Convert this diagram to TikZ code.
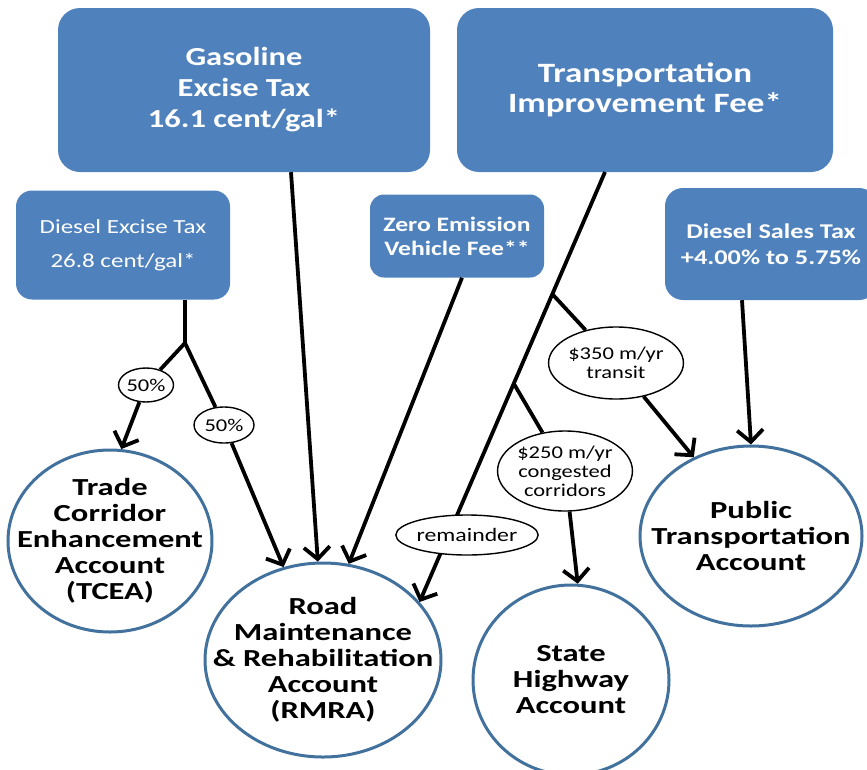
\documentclass[tikz,border=0pt]{standalone}
\usepackage{fontspec}
\setmainfont{Carlito}[FakeStretch=1.25]
\newfontfamily\accfont{Carlito}[FakeStretch=1.33]
\usetikzlibrary{shapes.geometric,arrows.meta,calc}
\definecolor{boxblue}{HTML}{4F81BD}
\definecolor{ringblue}{HTML}{41719C}
\begin{document}
\begin{tikzpicture}[x=1pt,y=-1pt,
  srcbox/.style={fill=boxblue, rounded corners=22pt, text=white, align=center, inner sep=0pt},
  acct/.style={ellipse, draw=ringblue, line width=3pt, fill=white, inner sep=0pt},
  accttext/.style={align=center, inner sep=0pt, font=\accfont\bfseries\fontsize{24.5}{26}\selectfont},
  tag/.style={ellipse, draw=black, line width=1.4pt, fill=white, align=center, inner sep=0pt, font=\fontsize{18}{20}\selectfont},
  conn/.style={line width=3.8pt},
  arr/.style={conn, -{Straight Barb[length=12pt,width=26pt,line width=3.8pt]}}
]
\useasboundingbox (0,0) rectangle (867,769);
% source boxes
\node[srcbox, minimum width=372pt, minimum height=164pt, font=\bfseries\fontsize{26}{31}\selectfont] (gas) at (244,90) {Gasoline\\Excise Tax\\16.1 cent/gal*};
\node[srcbox, minimum width=376pt, minimum height=164pt, font=\bfseries\fontsize{28}{30}\selectfont] (tif) at (645,90) {Transportation\\Improvement Fee*};
\node[srcbox, rounded corners=16pt, minimum width=214pt, minimum height=109pt, font=\fontsize{20}{34}\selectfont] (dex) at (123,245) {Diesel Excise Tax\\26.8 cent/gal*};
\node[srcbox, rounded corners=14pt, minimum width=174pt, minimum height=83pt, font=\bfseries\fontsize{20.5}{24}\selectfont] (zev) at (457,236) {Zero Emission\\Vehicle Fee**};
\node[srcbox, rounded corners=18pt, minimum width=212pt, minimum height=112pt, font=\bfseries\fontsize{21}{26}\selectfont] (dst) at (771,244) {Diesel Sales Tax\\+4.00\% to 5.75\%};
% accounts
\node[acct, minimum width=204pt, minimum height=182pt,
  label={[accttext]center:{Trade\\Corridor\\Enhancement\\Account\\(TCEA)}}] (tcea) at (110,541) {};
\node[acct, minimum width=236pt, minimum height=194pt,
  label={[accttext]center:{Road\\Maintenance\\\& Rehabilitation\\Account\\(RMRA)}}] (rmra) at (323,660) {};
\node[acct, minimum width=196pt, minimum height=190pt,
  label={[accttext]center:{State\\Highway\\Account}}] (shw) at (571,680) {};
\node[acct, minimum width=222pt, minimum height=180pt,
  label={[accttext]center:{Public\\Transportation\\Account}}] (pta) at (751,536) {};
% junction coordinates
\coordinate (j1) at (185,343);
\coordinate (g0) at (291,0);
\coordinate (z0) at (462,0);
\coordinate (t0) at (605,172);
\coordinate (s0) at (742,0);
\coordinate (tend) at (rmra.31);
\coordinate (j2) at ($(t0)!0.284!(tend)$);
\coordinate (j3) at ($(t0)!0.492!(tend)$);
% tags
\node[tag, minimum width=54pt, minimum height=34pt] (p50a) at (146,385) {50\%};
\node[tag, minimum width=60pt, minimum height=36pt] (p50b) at (224,425) {50\%};
\node[tag, minimum width=122pt, minimum height=72pt, font=\fontsize{18}{19}\selectfont] (l350) at (616,363) {\$350 m/yr\\transit};
\node[tag, minimum width=124pt, minimum height=80pt, font=\fontsize{18}{19}\selectfont] (l250) at (565,471) {\$250 m/yr\\congested\\corridors};
% connectors
\draw[conn] (dex.south -| j1) -- (j1);
\draw[conn] (j1) -- (p50a);
\draw[arr] (p50a) -- (tcea.83);
\draw[conn] (j1) -- (p50b);
\draw[arr] (p50b) -- (rmra.113);
\draw[arr] (gas.south -| g0) -- (rmra.93);
\draw[arr] (zev.south -| z0) -- (rmra.75);
\draw[arr] (t0) -- (tend);
\draw[conn] (j2) -- (l350);
\draw[arr] (l350) -- (pta.126);
\draw[conn] (j3) -- (l250);
\draw[arr] (l250) -- (shw.86);
\draw[arr] (dst.south -| s0) -- (pta.north);
\node[tag, minimum width=120pt, minimum height=40pt, font=\fontsize{19}{20}\selectfont] (lrem) at (467,535) {remainder};
\end{tikzpicture}
\end{document}
